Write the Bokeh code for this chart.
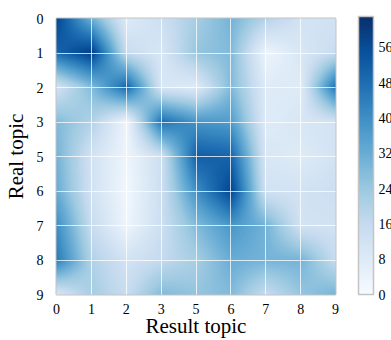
import numpy as np
from bokeh.plotting import figure
from bokeh.models import (LinearColorMapper, ColorBar, FixedTicker, Range1d)
from bokeh.palettes import Blues256
from bokeh.embed import file_html
from bokeh.resources import INLINE

# topics (topic 4 absent)
topic_labels = [0, 1, 2, 3, 5, 6, 7, 8, 9]

# rows = real topic, columns = result topic
row_0 = [58, 30, 8, 14, 22, 30, 20, 12, 12]
row_1 = [50, 60, 15, 10, 25, 28, 3, 10, 15]
row_2 = [12, 28, 50, 10, 8, 28, 8, 8, 48]
row_3 = [28, 20, 3, 48, 38, 36, 8, 10, 12]
row_5 = [30, 12, 3, 14, 52, 50, 10, 8, 12]
row_6 = [32, 12, 2, 14, 40, 58, 12, 12, 14]
row_7 = [40, 15, 3, 14, 28, 38, 30, 12, 12]
row_8 = [45, 20, 12, 16, 22, 32, 30, 30, 15]
row_9 = [10, 22, 15, 28, 25, 28, 15, 25, 30]

colorbar_ticks = [0, 8, 16, 24, 32, 40, 48, 56]
value_max = 63

M = np.array([row_0, row_1, row_2, row_3, row_5, row_6, row_7, row_8, row_9], dtype=float)
n = len(topic_labels)
idx = np.arange(n)

# bilinear rendering (like imshow interpolation='bilinear')
res = 281
t = np.linspace(0, n - 1, res)
A = np.array([np.interp(t, idx, r) for r in M])
B = np.array([np.interp(t, idx, A[:, j]) for j in range(res)]).T
half = (n - 1) / (2 * (res - 1))

serif = "Liberation Serif"
frame_h = 278

p = figure(width=391, height=340, output_backend="svg", toolbar_location=None,
           x_range=Range1d(0, n - 1), y_range=Range1d(0, n - 1),
           min_border_left=55, min_border_top=18, min_border_right=56,
           min_border_bottom=44)

mapper = LinearColorMapper(palette=list(reversed(Blues256)), low=0, high=value_max)
# first array row drawn at bottom -> flip so real topic 0 is at top
p.image(image=[B[::-1]], x=-half, y=-half, dw=n - 1 + 2 * half, dh=n - 1 + 2 * half,
        color_mapper=mapper)

x_labels = {i: str(l) for i, l in enumerate(topic_labels)}
y_labels = {n - 1 - i: str(l) for i, l in enumerate(topic_labels)}
for ax, labs in ((p.xaxis[0], x_labels), (p.yaxis[0], y_labels)):
    ax.ticker = FixedTicker(ticks=list(range(n)))
    ax.major_label_overrides = labs
    ax.major_tick_line_color = None
    ax.minor_tick_line_color = None
    ax.axis_line_color = None
    ax.major_label_text_font = serif
    ax.major_label_text_font_size = "14px"
    ax.major_label_text_color = "black"
    ax.axis_label_text_font = serif
    ax.axis_label_text_font_size = "21px"
    ax.axis_label_text_font_style = "normal"
    ax.axis_label_text_color = "black"

p.xaxis.axis_label = "Result topic"
p.yaxis.axis_label = "Real topic"
p.xaxis.major_label_standoff = 3
p.xaxis.axis_label_standoff = -3
p.xaxis.major_label_text_line_height = 0.9
p.xaxis.axis_label_text_line_height = 0.8
p.yaxis.major_label_standoff = 7
p.yaxis.axis_label_standoff = 6

for g in (p.xgrid[0], p.ygrid[0]):
    g.ticker = FixedTicker(ticks=list(range(n)))
    g.grid_line_color = "white"
    g.grid_line_alpha = 0.75
    g.grid_line_width = 1
    g.level = "overlay"

p.outline_line_color = "#c4c4c4"
p.outline_line_width = 2

cb = ColorBar(color_mapper=mapper, ticker=FixedTicker(ticks=colorbar_ticks),
              location=(302, 0), width=15, height=frame_h, padding=0, margin=0,
              label_standoff=5, major_tick_line_color=None, minor_tick_line_color=None,
              bar_line_color="#c4c4c4", bar_line_width=1.5,
              major_label_text_font=serif, major_label_text_font_size="14px",
              major_label_text_color="black", background_fill_alpha=0,
              border_line_color=None)
p.add_layout(cb)

open("out.html", "w").write(file_html(p, INLINE))
